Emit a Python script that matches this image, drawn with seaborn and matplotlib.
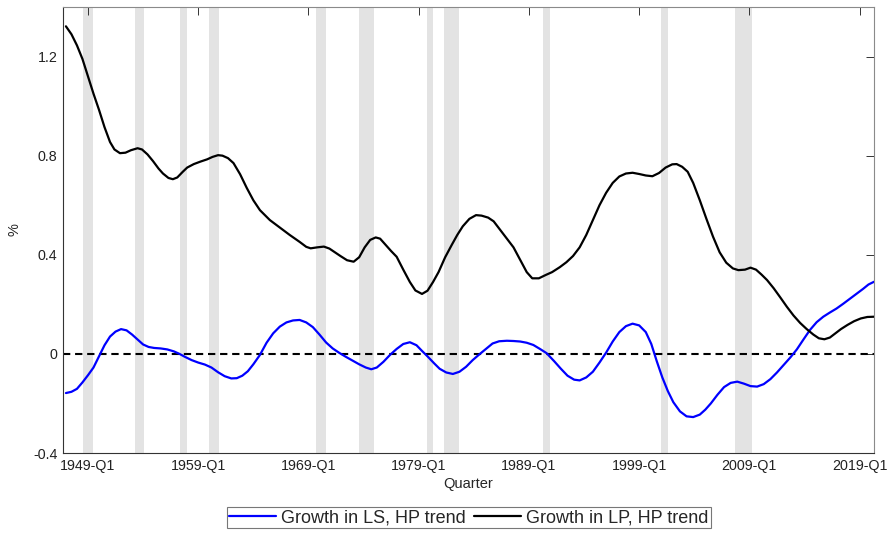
import numpy as np
import pandas as pd
import matplotlib
matplotlib.use("Agg")
import matplotlib.pyplot as plt
import seaborn as sns

# Valores (ano decimal, % ao trimestre)
lp_years = [1947.0, 1947.5, 1948.0, 1948.5, 1949.0, 1949.5, 1950.0, 1950.5,
            1951.0, 1951.4, 1951.9, 1952.4, 1952.9, 1953.5, 1953.9, 1954.4,
            1954.9, 1955.4, 1955.8, 1956.3, 1956.7, 1957.1, 1957.6, 1958.0,
            1958.6, 1959.2, 1959.8, 1960.3, 1960.8, 1961.2, 1961.7, 1962.2,
            1962.8, 1963.4, 1964.0, 1964.6, 1965.5, 1966.4, 1967.3, 1968.2,
            1968.8, 1969.2, 1969.8, 1970.4, 1970.9, 1971.4, 1971.9, 1972.5,
            1973.1, 1973.6, 1974.1, 1974.6, 1975.1, 1975.5, 1976.0, 1976.5,
            1977.0, 1977.6, 1978.2, 1978.7, 1979.3, 1979.8, 1980.3, 1980.8,
            1981.4, 1982.0, 1982.5, 1983.0, 1983.6, 1984.2, 1984.7, 1985.3,
            1985.8, 1986.4, 1987.0, 1987.6, 1988.2, 1988.8, 1989.3, 1989.9,
            1990.5, 1991.1, 1991.8, 1992.4, 1993.0, 1993.6, 1994.2, 1994.8,
            1995.4, 1996.0, 1996.6, 1997.2, 1997.8, 1998.4, 1999.0, 1999.6,
            2000.2, 2000.8, 2001.4, 2002.0, 2002.4, 2002.9, 2003.4, 2003.9,
            2004.5, 2005.1, 2005.7, 2006.3, 2006.9, 2007.5, 2008.0, 2008.6,
            2009.1, 2009.6, 2010.1, 2010.6, 2011.2, 2011.8, 2012.4, 2013.0,
            2013.6, 2014.2, 2014.8, 2015.3, 2015.8, 2016.3, 2016.8, 2017.3,
            2017.9, 2018.5, 2019.1, 2019.7, 2020.3]
lp_values = [1.322, 1.29, 1.245, 1.19, 1.12, 1.05, 0.985, 0.915,
             0.855, 0.825, 0.81, 0.812, 0.822, 0.83, 0.825, 0.805,
             0.778, 0.748, 0.728, 0.71, 0.705, 0.712, 0.735, 0.752,
             0.766, 0.776, 0.785, 0.795, 0.802, 0.80, 0.79, 0.77,
             0.725, 0.67, 0.62, 0.58, 0.54, 0.51, 0.48, 0.452,
             0.432, 0.426, 0.43, 0.433, 0.425, 0.41, 0.395, 0.378,
             0.372, 0.39, 0.43, 0.46, 0.47, 0.465, 0.44, 0.415,
             0.392, 0.34, 0.29, 0.256, 0.242, 0.255, 0.29, 0.33,
             0.39, 0.44, 0.48, 0.515, 0.545, 0.56, 0.558, 0.55,
             0.535, 0.50, 0.465, 0.43, 0.38, 0.33, 0.305, 0.305,
             0.318, 0.33, 0.35, 0.37, 0.395, 0.43, 0.48, 0.54,
             0.60, 0.65, 0.69, 0.716, 0.728, 0.731, 0.726, 0.72,
             0.717, 0.73, 0.752, 0.765, 0.766, 0.755, 0.735, 0.69,
             0.62, 0.545, 0.473, 0.41, 0.368, 0.345, 0.338, 0.34,
             0.348, 0.34, 0.32, 0.298, 0.265, 0.228, 0.19, 0.155,
             0.125, 0.10, 0.078, 0.063, 0.059, 0.066, 0.083, 0.10,
             0.117, 0.132, 0.143, 0.149, 0.15]

ls_years = [1947.0, 1947.5, 1948.0, 1948.5, 1949.0, 1949.5, 1950.0, 1950.5,
            1951.0, 1951.5, 1952.0, 1952.5, 1953.0, 1953.5, 1954.0, 1954.5,
            1955.0, 1955.6, 1956.2, 1956.8, 1957.3, 1957.8, 1958.4, 1959.0,
            1959.6, 1960.2, 1960.8, 1961.4, 1962.0, 1962.5, 1963.0, 1963.5,
            1964.0, 1964.6, 1965.2, 1965.8, 1966.4, 1967.0, 1967.6, 1968.2,
            1968.8, 1969.4, 1970.0, 1970.6, 1971.2, 1971.8, 1972.4, 1973.0,
            1973.6, 1974.2, 1974.7, 1975.2, 1975.8, 1976.4, 1977.0, 1977.6,
            1978.2, 1978.8, 1979.3, 1979.8, 1980.4, 1980.9, 1981.5, 1982.1,
            1982.7, 1983.3, 1983.9, 1984.5, 1985.1, 1985.7, 1986.3, 1987.0,
            1987.6, 1988.2, 1988.8, 1989.4, 1990.0, 1990.6, 1991.3, 1991.9,
            1992.5, 1993.1, 1993.6, 1994.2, 1994.8, 1995.4, 1996.0, 1996.6,
            1997.2, 1997.8, 1998.4, 1999.0, 1999.6, 2000.1, 2000.6, 2001.1,
            2001.6, 2002.1, 2002.7, 2003.3, 2003.9, 2004.5, 2005.0, 2005.5,
            2006.1, 2006.7, 2007.3, 2007.9, 2008.5, 2009.1, 2009.7, 2010.3,
            2010.9, 2011.5, 2012.1, 2012.7, 2013.3, 2013.9, 2014.5, 2015.1,
            2015.7, 2016.3, 2016.9, 2017.5, 2018.1, 2018.7, 2019.3, 2019.8,
            2020.3]
ls_values = [-0.158, -0.153, -0.141, -0.115, -0.086, -0.055, -0.01, 0.035,
             0.07, 0.09, 0.10, 0.095, 0.078, 0.058, 0.038, 0.028,
             0.024, 0.022, 0.018, 0.01, 0.0, -0.012, -0.025, -0.035,
             -0.043, -0.055, -0.074, -0.09, -0.099, -0.098, -0.088, -0.07,
             -0.042, -0.004, 0.045, 0.083, 0.11, 0.127, 0.135, 0.137,
             0.127, 0.108, 0.078, 0.046, 0.022, 0.004, -0.012, -0.027,
             -0.042, -0.055, -0.062, -0.055, -0.032, -0.004, 0.02, 0.04,
             0.047, 0.035, 0.012, -0.01, -0.038, -0.06, -0.075, -0.081,
             -0.072, -0.052, -0.025, -0.002, 0.02, 0.042, 0.051, 0.053,
             0.052, 0.05, 0.045, 0.036, 0.02, 0.003, -0.03, -0.06,
             -0.088, -0.104, -0.107, -0.095, -0.072, -0.035, 0.005, 0.05,
             0.088, 0.112, 0.122, 0.115, 0.088, 0.04, -0.03, -0.095,
             -0.15, -0.195, -0.232, -0.252, -0.255, -0.245, -0.225, -0.20,
             -0.165, -0.134, -0.117, -0.112, -0.12, -0.13, -0.132, -0.122,
             -0.102, -0.075, -0.045, -0.015, 0.018, 0.058, 0.097, 0.128,
             0.15, 0.167, 0.183, 0.202, 0.222, 0.242, 0.262, 0.28,
             0.291]

# Recessões (faixas cinza)
rec_start = [1948.55, 1953.25, 1957.35, 1960.0, 1969.7, 1973.6, 1979.75,
             1981.3, 1990.3, 2001.0, 2007.7]
rec_end = [1949.45, 1954.1, 1958.0, 1960.9, 1970.6, 1974.95, 1980.3,
           1982.65, 1990.9, 2001.65, 2009.25]

tick_years = [1949, 1959, 1969, 1979, 1989, 1999, 2009, 2019]
tick_labels = ['1949-Q1', '1959-Q1', '1969-Q1', '1979-Q1', '1989-Q1',
               '1999-Q1', '2009-Q1', '2019-Q1']
y_ticks = [-0.4, 0, 0.4, 0.8, 1.2]
y_labels = ['-0.4', '0', '0.4', '0.8', '1.2']

sns.set_style('white')
plt.rcParams['font.family'] = ['Liberation Sans', 'DejaVu Sans']
plt.rcParams['font.size'] = 10

fig = plt.figure(figsize=(8.93, 5.37), dpi=100)
ax = fig.add_axes([0.0705, 0.1564, 0.9082, 0.8306])

for s, e in zip(rec_start, rec_end):
    ax.axvspan(s, e, color='#e3e3e3', lw=0, zorder=0)

ax.axhline(0, color='black', ls=(0, (3.5, 2.3)), lw=1.5, zorder=2)

df_ls = pd.DataFrame({'ano': ls_years, 'valor': ls_values})
df_lp = pd.DataFrame({'ano': lp_years, 'valor': lp_values})
sns.lineplot(data=df_ls, x='ano', y='valor', color='#0000ff', lw=1.6,
             estimator=None, ax=ax, zorder=3, label='Growth in LS, HP trend')
sns.lineplot(data=df_lp, x='ano', y='valor', color='black', lw=1.6,
             estimator=None, ax=ax, zorder=3, label='Growth in LP, HP trend')
for ln in ax.get_lines():
    ln.set_solid_joinstyle('round')

ax.set_xlim(1946.73, 2020.3)
ax.set_ylim(-0.4, 1.4)
ax.set_xticks(tick_years)
ax.set_xticklabels(tick_labels)
ax.set_yticks(y_ticks)
ax.set_yticklabels(y_labels)
ax.set_xlabel('Quarter', fontsize=10.5, labelpad=3)
ax.set_ylabel('%', fontsize=10.5, labelpad=8)

ax.tick_params(direction='in', length=6, width=0.7, color='#333333',
               top=True, right=True, labelsize=10.3, pad=4, labelcolor='#222222')
for side in ['left', 'bottom']:
    ax.spines[side].set_color('#333333')
    ax.spines[side].set_linewidth(0.8)
for side in ['top', 'right']:
    ax.spines[side].set_color('#8a8a8a')
    ax.spines[side].set_linewidth(0.8)

handles, labels = ax.get_legend_handles_labels()
ax.get_legend().remove()
leg = fig.legend(handles, labels, loc='center', ncol=2,
                 bbox_to_anchor=(0.525, 0.0363), frameon=True, fancybox=False,
                 edgecolor='#555555', handlelength=2.6, handletextpad=0.3,
                 columnspacing=0.45, borderpad=0.12, fontsize=13)
leg.get_frame().set_linewidth(0.8)

fig.savefig('out.png', dpi=100, facecolor='white')
plt.close(fig)
